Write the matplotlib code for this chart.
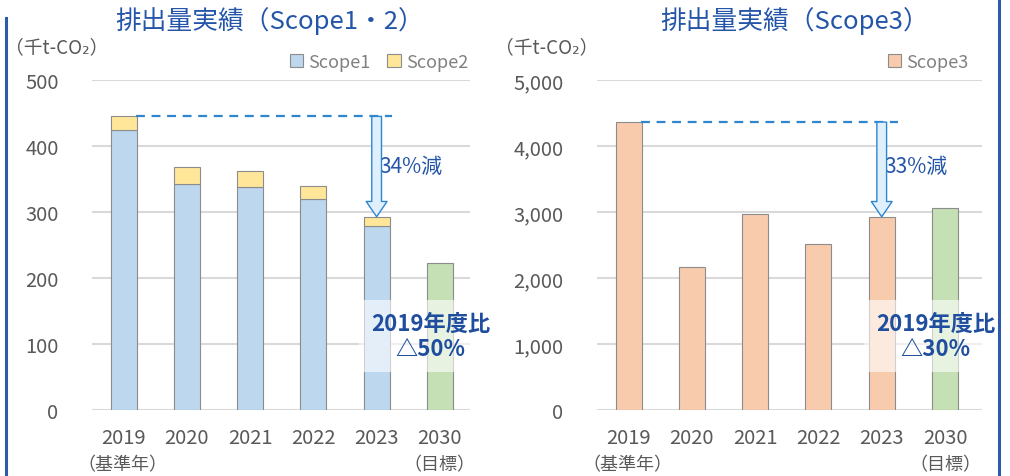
import matplotlib.pyplot as plt
import matplotlib as mpl
from matplotlib.lines import Line2D
from matplotlib.patches import Patch

plt.rcParams['font.family'] = ['Noto Sans CJK JP', 'DejaVu Sans']

years = ["2019", "2020", "2021", "2022", "2023", "2030"]
scope1 = [424, 342, 338, 320, 279]
scope2 = [21, 26, 24, 19, 14]
target12 = 223
scope3 = [4364, 2167, 2970, 2515, 2929]
target3 = 3056

c_s1 = "#bdd7ee"
c_s2 = "#ffe699"
c_s3 = "#f8cbad"
c_tg = "#c5e0b4"
c_edge = "#8c8c8c"
c_title = "#2455a8"
c_grey = "#595959"
c_dash = "#2e86d0"

fig = plt.figure(figsize=(10.1, 4.77), dpi=100)
ax1 = fig.add_axes([0.091, 0.138, 0.374, 0.692])
ax2 = fig.add_axes([0.591, 0.138, 0.381, 0.692])

x = list(range(len(years)))
w = 0.41

# left: scope 1+2
ax1.bar(x[:5], scope1, w, color=c_s1, edgecolor=c_edge, linewidth=0.8, label="Scope1", zorder=2)
ax1.bar(x[:5], scope2, w, bottom=scope1, color=c_s2, edgecolor=c_edge, linewidth=0.8, label="Scope2", zorder=2)
ax1.bar(x[5], target12, w, color=c_tg, edgecolor=c_edge, linewidth=0.8, zorder=2)
ax1.set_ylim(0, 500)
ax1.set_yticks([0, 100, 200, 300, 400, 500])
ax1.set_xlim(-0.5, 5.47)

# right: scope 3
ax2.bar(x[:5], scope3, w, color=c_s3, edgecolor=c_edge, linewidth=0.8, label="Scope3", zorder=2)
ax2.bar(x[5], target3, w, color=c_tg, edgecolor=c_edge, linewidth=0.8, zorder=2)
ax2.set_ylim(0, 5000)
ax2.set_yticks([0, 1000, 2000, 3000, 4000, 5000])
ax2.set_yticklabels(["0", "1,000", "2,000", "3,000", "4,000", "5,000"])
ax2.set_xlim(-0.5, 5.58)

base12 = scope1[0] + scope2[0]
last12 = scope1[4] + scope2[4]

for ax, base, last, pct, note, ymax in [
        (ax1, base12, last12, "34%減", "2019年度比\n△50%", 500),
        (ax2, scope3[0], scope3[4], "33%減", "2019年度比\n△30%", 5000)]:
    for s in ax.spines.values():
        s.set_visible(False)
    ax.grid(axis='y', color="#d9d9d9", linewidth=1.5, zorder=0)
    ax.set_axisbelow(True)
    ax.tick_params(length=0, labelsize=14.5, labelcolor=c_grey)
    ax.tick_params(axis='y', pad=24)
    ax.tick_params(axis='x', pad=12)
    ax.set_xticks(x)
    ax.set_xticklabels(years)
    ax.text(-0.02, -0.163, "（基準年）", transform=ax.get_xaxis_transform(), fontsize=13,
            color=c_grey, ha='center', va='center')
    ax.text(5.0, -0.163, "（目標）", transform=ax.get_xaxis_transform(), fontsize=13,
            color=c_grey, ha='center', va='center')
    # dashed reference line
    ax.plot([0.2, 4.25], [base, base], ls=(0, (4, 3)), color=c_dash, lw=1.6, zorder=3)
    # hollow arrow
    ax.annotate("", xy=(4, last), xytext=(4, base),
                arrowprops=dict(arrowstyle="simple,head_length=11,head_width=15,tail_width=7",
                                mutation_scale=1, fc="#dff0fc", ec=c_dash, lw=1.0,
                                shrinkA=0, shrinkB=0), zorder=4)
    ax.text(4.04, ymax * 0.74, pct, fontsize=15, color=c_title, ha='left', va='center')
    ax.text(4.85, ymax * 0.225, note, fontsize=16, fontweight='bold', color="#1f4e9f",
            ha='center', va='center', linespacing=1.1, zorder=5, clip_on=False,
            bbox=dict(boxstyle="square,pad=0.55", fc="white", ec="none", alpha=0.6))

fig.text(0.267, 0.955, "排出量実績（Scope1・2）", fontsize=18.5, color=c_title, ha='center', va='center')
fig.text(0.787, 0.955, "排出量実績（Scope3）", fontsize=18.5, color=c_title, ha='center', va='center')
fig.text(0.005, 0.9, "（千t-CO₂）", fontsize=13.5, color=c_grey, ha='left', va='center')
fig.text(0.49, 0.9, "（千t-CO₂）", fontsize=13.5, color=c_grey, ha='left', va='center')

leg_kw = dict(loc='lower right', frameon=False, fontsize=13, handlelength=0.75, handleheight=0.75,
              handletextpad=0.3, columnspacing=0.9, borderaxespad=0.1, labelcolor="#808080")
ax1.legend(handles=[Patch(fc=c_s1, ec=c_edge, lw=0.8, label="Scope1"),
                    Patch(fc=c_s2, ec=c_edge, lw=0.8, label="Scope2")],
           ncol=2, bbox_to_anchor=(1.02, 1.0), **leg_kw)
ax2.legend(handles=[Patch(fc=c_s3, ec=c_edge, lw=0.8, label="Scope3")],
           bbox_to_anchor=(0.99, 1.0), **leg_kw)

# frame lines
fig.add_artist(Line2D([0.006, 0.006], [0.0, 0.96], color="#2f5aa8", lw=2.2))
fig.add_artist(Line2D([0.989, 0.989], [0.0, 1.0], color="#2f5aa8", lw=2.2))

fig.savefig("out.png", dpi=100)
